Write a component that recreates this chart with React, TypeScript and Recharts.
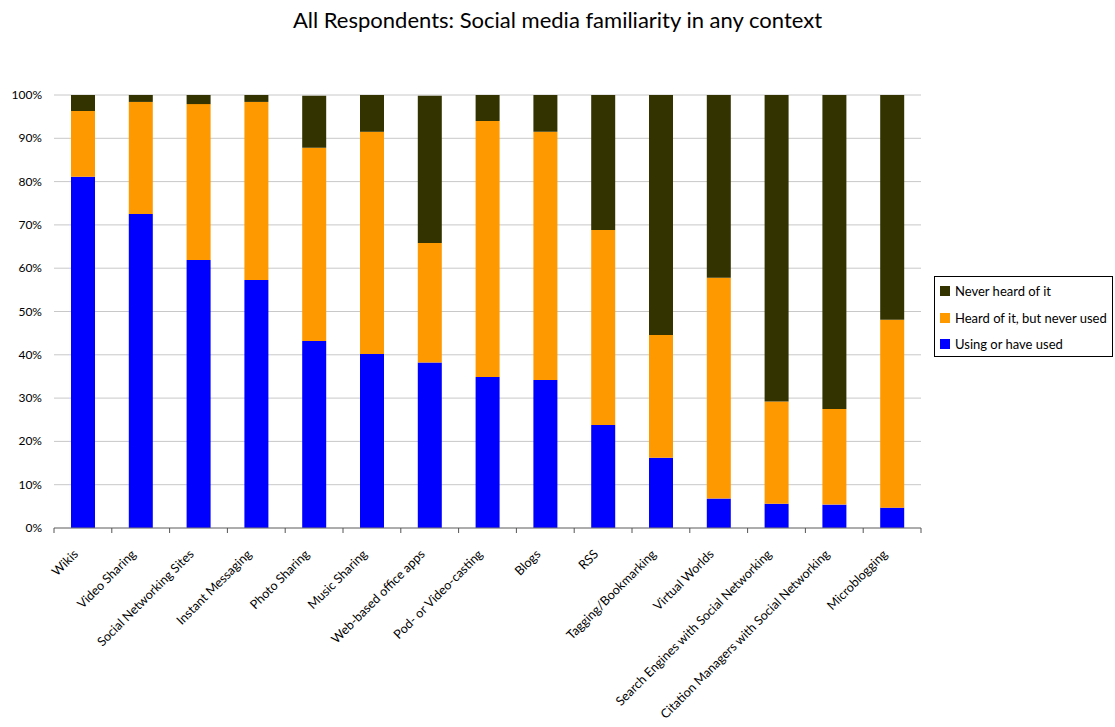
import React from "react";
import { BarChart, Bar, XAxis, YAxis, CartesianGrid } from "recharts";

const categories = [
  "Wikis",
  "Video Sharing",
  "Social Networking Sites",
  "Instant Messaging",
  "Photo Sharing",
  "Music Sharing",
  "Web-based office apps",
  "Pod- or Video-casting",
  "Blogs",
  "RSS",
  "Tagging/Bookmarking",
  "Virtual Worlds",
  "Search Engines with Social Networking",
  "Citation Managers with Social Networking",
  "Microblogging",
];
const usingValues = [81.1, 72.5, 61.9, 57.3, 43.2, 40.2, 38.2, 34.9, 34.2, 23.8, 16.2, 6.8, 5.6, 5.4, 4.7];
const heardValues = [15.2, 25.9, 36.0, 41.1, 44.6, 51.3, 27.6, 59.1, 57.3, 45.0, 28.4, 51.0, 23.6, 22.1, 43.4];
const neverValues = [3.7, 1.6, 2.1, 1.6, 12.0, 8.5, 34.0, 6.0, 8.5, 31.2, 55.4, 42.2, 70.8, 72.5, 51.9];
const yTicks = [0, 10, 20, 30, 40, 50, 60, 70, 80, 90, 100];

const seriesInfo = [
  { key: "never", name: "Never heard of it", color: "#333300" },
  { key: "heard", name: "Heard of it, but never used", color: "#FF9900" },
  { key: "using", name: "Using or have used", color: "#0000FF" },
];

const data = categories.map((c, i) => ({
  name: c,
  using: usingValues[i],
  heard: heardValues[i],
  never: neverValues[i],
}));

const FONT = "Lato, 'DejaVu Sans', sans-serif";

const XTick = (props: any) => {
  const { x, y, payload, index, width } = props;
  const half = (width || 867) / (2 * categories.length);
  const axisY = y - 8;
  return (
    <g>
      <line x1={x - half} x2={x - half} y1={axisY} y2={axisY + 5} stroke="#555" strokeWidth={1} />
      {index === categories.length - 1 ? (
        <line x1={x + half} x2={x + half} y1={axisY} y2={axisY + 5} stroke="#555" strokeWidth={1} />
      ) : null}
      <g transform={`translate(${x - 4},${y + 19})`}>
        <text transform="rotate(-45)" textAnchor="end" fontSize={12.6} fill="#000" fontFamily={FONT}>
          {payload.value}
        </text>
      </g>
    </g>
  );
};

const YTick = (props: any) => {
  const { x, y, payload } = props;
  return (
    <text x={x - 4} y={y} dy={4} textAnchor="end" fontSize={12} fill="#000" fontFamily={FONT}>
      {`${payload.value}%`}
    </text>
  );
};

const LegendBox = () => (
  <div
    style={{
      position: "absolute",
      left: 934,
      top: 276,
      border: "1px solid #000",
      width: 179,
      height: 81,
      boxSizing: "border-box",
      padding: "1px 0 0 5px",
      fontFamily: FONT,
      fontSize: 13,
      color: "#000",
      background: "#fff",
    }}
  >
    {seriesInfo.map((s) => (
      <div key={s.key} style={{ display: "flex", alignItems: "center", height: 26.5 }}>
        <span style={{ display: "inline-block", width: 10, height: 10, background: s.color, marginRight: 5 }} />
        <span>{s.name}</span>
      </div>
    ))}
  </div>
);

export default function App() {
  return (
    <div style={{ position: "absolute", left: 0, top: 0, width: 1115, height: 727, background: "#fff" }}>
      <div
        style={{
          position: "absolute",
          left: 0,
          top: 6,
          width: 1115,
          textAlign: "center",
          fontFamily: FONT,
          fontSize: 22,
          color: "#000",
        }}
      >
        All Respondents: Social media familiarity in any context
      </div>
      <BarChart
        width={1115}
        height={727}
        data={data}
        margin={{ top: 95, right: 194, bottom: 0, left: 0 }}
      >
        <CartesianGrid vertical={false} stroke="#c8c8c8" />
        <XAxis
          dataKey="name"
          interval={0}
          height={199}
          axisLine={{ stroke: "#777" }}
          tickLine={false}
          tick={<XTick />}
        />
        <YAxis
          width={54}
          domain={[0, 100]}
          ticks={yTicks}
          axisLine={false}
          tickLine={false}
          tick={<YTick />}
          interval={0}
        />
        <Bar dataKey="using" name="Using or have used" stackId="a" fill="#0000FF" barSize={24} isAnimationActive={false} />
        <Bar dataKey="heard" name="Heard of it, but never used" stackId="a" fill="#FF9900" barSize={24} isAnimationActive={false} />
        <Bar dataKey="never" name="Never heard of it" stackId="a" fill="#333300" barSize={24} isAnimationActive={false} />
      </BarChart>
      <LegendBox />
    </div>
  );
}
